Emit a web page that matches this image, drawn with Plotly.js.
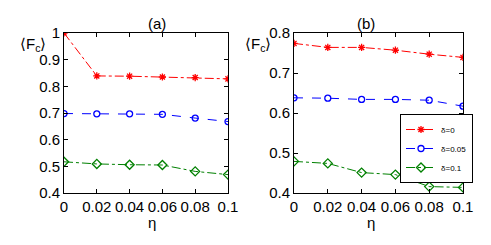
<!DOCTYPE html>
<html><head><meta charset="utf-8">
<script src="https://cdn.plot.ly/plotly-3.0.1.min.js"></script>
<style>html,body{margin:0;padding:0;background:#fff}</style>
</head><body>
<div id="chart" style="width:491px;height:245px"></div>
<script>
var eta = [0, 0.02, 0.04, 0.06, 0.08, 0.1];
var etaLabels = ['0', '0.02', '0.04', '0.06', '0.08', '0.1'];
var seriesNames = ['δ=0', 'δ=0.05', 'δ=0.1'];
// panel (a)
var aDelta0 = [1.0, 0.839, 0.838, 0.835, 0.833, 0.828];
var aDelta005 = [0.698, 0.697, 0.697, 0.695, 0.681, 0.668];
var aDelta01 = [0.517, 0.509, 0.506, 0.505, 0.481, 0.469];
// panel (b)
var bDelta0 = [0.774, 0.764, 0.764, 0.757, 0.747, 0.739];
var bDelta005 = [0.638, 0.637, 0.634, 0.634, 0.632, 0.617];
var bDelta01 = [0.479, 0.474, 0.451, 0.446, 0.416, 0.414];
var yTicksA = [0.4, 0.5, 0.6, 0.7, 0.8, 0.9, 1];
var yLabelsA = ['0.4', '0.5', '0.6', '0.7', '0.8', '0.9', '1'];
var yTicksB = [0.4, 0.5, 0.6, 0.7, 0.8];
var yLabelsB = ['0.4', '0.5', '0.6', '0.7', '0.8'];

var FONT = '"Liberation Sans Narrow", "Liberation Sans", Arial, sans-serif';
var styles = [
  {color: 'rgb(255,0,0)', dash: 'dashdot', symbol: 'asterisk-open', size: 6},
  {color: 'rgb(0,0,255)', dash: 'dash', symbol: 'circle-open', size: 6},
  {color: 'rgb(0,128,0)', dash: 'dashdot', symbol: 'diamond-open', size: 7}
];
function mk(y, i, xa, ya, show) {
  var s = styles[i];
  return {x: eta, y: y, xaxis: xa, yaxis: ya, type: 'scatter', mode: 'lines+markers',
    name: seriesNames[i], showlegend: show,
    line: {color: s.color, dash: s.dash, width: 1},
    marker: {symbol: s.symbol, size: s.size, color: s.color, line: {color: s.color, width: 1.3}}};
}
var data = [
  mk(aDelta0, 0, 'x', 'y', false), mk(aDelta005, 1, 'x', 'y', false), mk(aDelta01, 2, 'x', 'y', false),
  mk(bDelta0, 0, 'x2', 'y2', true), mk(bDelta005, 1, 'x2', 'y2', true), mk(bDelta01, 2, 'x2', 'y2', true)
];
function ax(extra) {
  var o = {showgrid: false, zeroline: false, showline: true, linecolor: '#000', linewidth: 1,
    mirror: 'ticks', ticks: 'inside', ticklen: 4, tickcolor: '#000',
    tickfont: {family: FONT, size: 15, color: '#000'}};
  for (var k in extra) o[k] = extra[k];
  return o;
}
var yDom = [1 - 193/245, 1 - 33/245];
var layout = {
  width: 491, height: 245, margin: {l: 0, r: 0, t: 0, b: 0},
  paper_bgcolor: '#fff', plot_bgcolor: '#fff',
  xaxis: ax({domain: [64/491, 228/491], range: [0, 0.1], tickvals: eta, ticktext: etaLabels, anchor: 'y'}),
  yaxis: ax({domain: yDom, range: [0.4, 1], tickvals: yTicksA, ticktext: yLabelsA, anchor: 'x'}),
  xaxis2: ax({domain: [294/491, 463/491], range: [0, 0.1], tickvals: eta, ticktext: etaLabels, anchor: 'y2'}),
  yaxis2: ax({domain: yDom, range: [0.4, 0.8], tickvals: yTicksB, ticktext: yLabelsB, anchor: 'x2'}),
  legend: {x: 400/491, y: 1 - 114/245, xanchor: 'left', yanchor: 'top',
    bgcolor: '#fff', bordercolor: '#000', borderwidth: 1, itemwidth: 30,
    font: {family: FONT, size: 8, color: '#000'}, tracegroupgap: 0},
  annotations: [
    {text: '(a)', xref: 'paper', yref: 'paper', x: 146/491, y: 1 - 13/245, showarrow: false,
      font: {family: FONT, size: 15, color: '#000'}},
    {text: '(b)', xref: 'paper', yref: 'paper', x: 377/491, y: 1 - 13/245, showarrow: false,
      font: {family: FONT, size: 15, color: '#000'}},
    {text: 'η', xref: 'paper', yref: 'paper', x: 146/491, y: 1 - 233/245, showarrow: false,
      font: {family: FONT, size: 15, color: '#000'}},
    {text: 'η', xref: 'paper', yref: 'paper', x: 377/491, y: 1 - 233/245, showarrow: false,
      font: {family: FONT, size: 15, color: '#000'}},
    {text: '⟨F<sub>c</sub>⟩', xref: 'paper', yref: 'paper', x: 18/491, y: 1 - 33/245,
      xanchor: 'left', showarrow: false,
      font: {family: FONT, size: 15, color: '#000'}},
    {text: '⟨F<sub>c</sub>⟩', xref: 'paper', yref: 'paper', x: 243/491, y: 1 - 33/245,
      xanchor: 'left', showarrow: false,
      font: {family: FONT, size: 15, color: '#000'}}
  ]
};
Plotly.newPlot('chart', data, layout, {staticPlot: true, displayModeBar: false});
</script>
</body></html>
